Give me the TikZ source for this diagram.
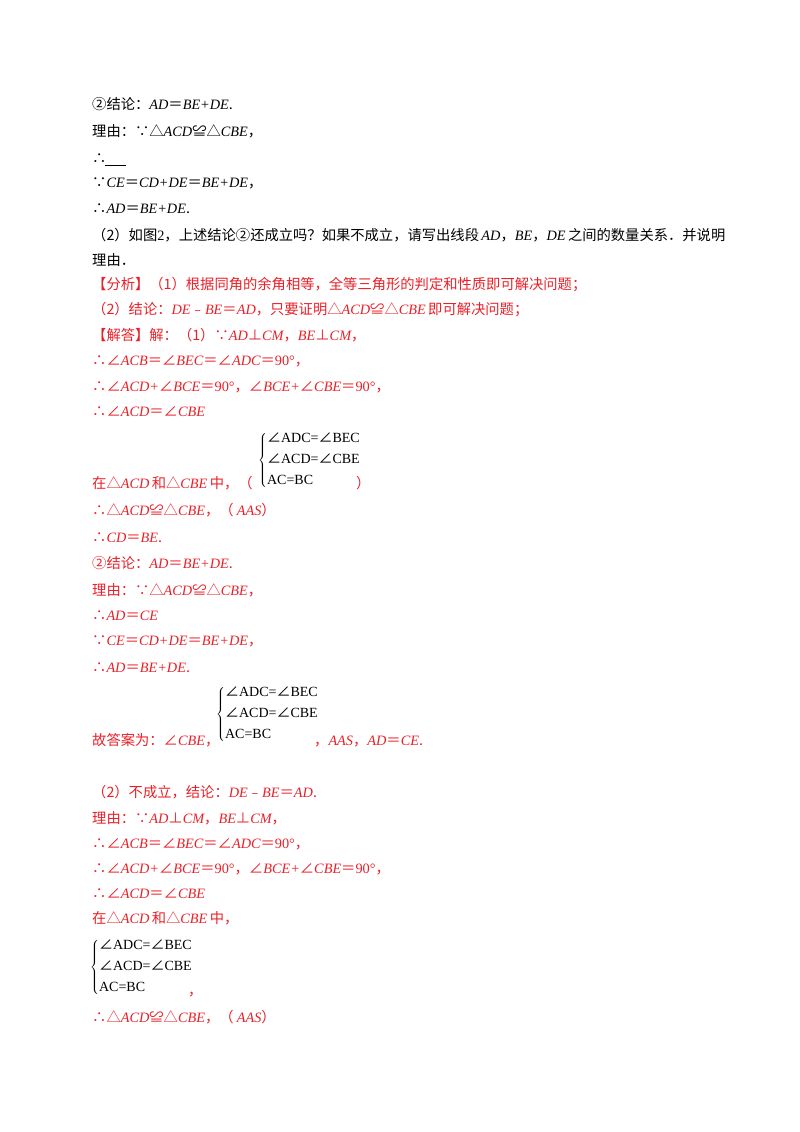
\documentclass[tikz,border=0pt]{standalone}
\usepackage{fontspec}
\setmainfont{Noto Sans CJK SC}
\newfontfamily\cjk{Noto Sans CJK SC}
\newfontfamily\tm{Liberation Serif}
\newcommand{\vv}[1]{{\tm\itshape #1}}
\newcommand{\rr}[1]{{\tm #1}}
\newcommand{\ang}{{\cjk ∠}}
\newcommand{\sysb}{$\left\{\begin{array}{@{}l@{}}\mbox{\ang ADC=\ang BEC}\\[4pt]\mbox{\ang ACD=\ang CBE}\\[4pt]\mbox{AC=BC}\end{array}\right.$}
\definecolor{ans}{RGB}{232,32,40}
\begin{document}
\begin{tikzpicture}[x=1pt,y=-1pt,
  ln/.style={anchor=base west,inner sep=0pt,font=\fontsize{14.3}{17}\selectfont},
  rd/.style={ln,text=ans},
  sys/.style={anchor=west,inner sep=0pt,font=\tm\fontsize{14}{17}\selectfont}]
\useasboundingbox (0,0) rectangle (800,1132);
\node[ln] (l1) at (92,109) {②结论：\vv{AD}＝\vv{BE+DE}.};
\node[ln] (l2) at (92,136) {理由：∵△\vv{ACD}≌△\vv{CBE}，};
\node[ln] (l3) at (92,163) {∴};
\coordinate (u1) at (105,165); \coordinate (u2) at (126,165);
\draw[line width=0.8pt] (u1) -- (u2);
\node[ln] (l4) at (92,187) {∵\vv{CE}＝\vv{CD+DE}＝\vv{BE+DE}，};
\node[ln] (l5) at (92,213) {∴\vv{AD}＝\vv{BE+DE}.};
\node[ln] (l6) at (92,240) {（2）如图\rr{2}，上述结论②还成立吗？如果不成立，请写出线段\,\vv{AD}，\vv{BE}，\vv{DE}\,之间的数量关系．并说明};
\node[ln] (l7) at (92,265) {理由．};
\node[rd] (l8) at (92,289) {【分析】（1）根据同角的余角相等，全等三角形的判定和性质即可解决问题；};
\node[rd] (l9) at (92,314) {（2）结论：\vv{DE}﹣\vv{BE}＝\vv{AD}，只要证明△\vv{ACD}≌△\vv{CBE}\,即可解决问题；};
\node[rd] (l10) at (92,340) {【解答】解：（1）∵\vv{AD}⊥\vv{CM}，\vv{BE}⊥\vv{CM}，};
\node[rd] (l11) at (92,365) {∴∠\vv{ACB}＝∠\vv{BEC}＝∠\vv{ADC}＝\rr{90°}，};
\node[rd] (l12) at (92,391) {∴∠\vv{ACD+}∠\vv{BCE}＝\rr{90°}，∠\vv{BCE+}∠\vv{CBE}＝\rr{90°}，};
\node[rd] (l13) at (92,416) {∴∠\vv{ACD}＝∠\vv{CBE}};
\node[sys] (s1) at (258,460) {\sysb};
\node[rd] (l14) at (92,488) {在△\vv{ACD}\,和△\vv{CBE}\,中，（};
\node[rd] (l14b) at (356,488) {）};
\node[rd] (l15) at (92,515) {∴△\vv{ACD}≌△\vv{CBE}，（ \vv{AAS}）};
\node[rd] (l16) at (92,542) {∴\vv{CD}＝\vv{BE}.};
\node[rd] (l17) at (92,568) {②结论：\vv{AD}＝\vv{BE+DE}.};
\node[rd] (l18) at (92,595) {理由：∵△\vv{ACD}≌△\vv{CBE}，};
\node[rd] (l19) at (92,620) {∴\vv{AD}＝\vv{CE}};
\node[rd] (l20) at (92,645) {∵\vv{CE}＝\vv{CD+DE}＝\vv{BE+DE}，};
\node[rd] (l21) at (92,672) {∴\vv{AD}＝\vv{BE+DE}.};
\node[sys] (s2) at (216,714) {\sysb};
\node[rd] (l22) at (92,745) {故答案为：∠\vv{CBE}，};
\node[rd] (l22b) at (314,745) {，\vv{AAS}，\vv{AD}＝\vv{CE}.};
\node[rd] (l23) at (92,797) {（2）不成立，结论：\vv{DE}﹣\vv{BE}＝\vv{AD}.};
\node[rd] (l24) at (92,823) {理由：∵\vv{AD}⊥\vv{CM}，\vv{BE}⊥\vv{CM}，};
\node[rd] (l25) at (92,848) {∴∠\vv{ACB}＝∠\vv{BEC}＝∠\vv{ADC}＝\rr{90°}，};
\node[rd] (l26) at (92,873) {∴∠\vv{ACD+}∠\vv{BCE}＝\rr{90°}，∠\vv{BCE+}∠\vv{CBE}＝\rr{90°}，};
\node[rd] (l27) at (92,898) {∴∠\vv{ACD}＝∠\vv{CBE}};
\node[rd] (l28) at (92,923) {在△\vv{ACD}\,和△\vv{CBE}\,中，};
\node[sys] (s3) at (90,967) {\sysb};
\node[rd] (l29) at (188,995) {，};
\node[rd] (l30) at (92,1022) {∴△\vv{ACD}≌△\vv{CBE}，（ \vv{AAS}）};
\end{tikzpicture}
\end{document}
